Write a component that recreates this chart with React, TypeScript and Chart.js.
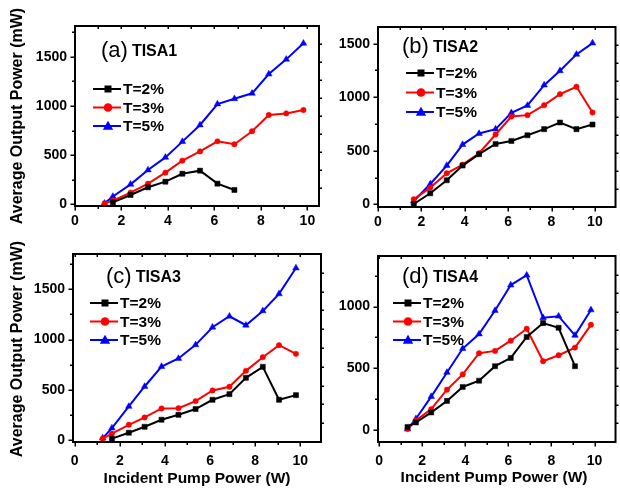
import React, { useEffect, useRef } from "react";
import { Chart, registerables } from "chart.js";

Chart.register(...registerables);

const FONT = "'Liberation Sans', Arial, Helvetica, sans-serif";

// ---------- data ----------
const seriesLabels = ["T=2%", "T=3%", "T=5%"];

// TISA1
const xTISA1_T2 = [1.63, 2.39, 3.14, 3.89, 4.62, 5.38, 6.13, 6.86];
const yTISA1_T2 = [20, 95, 173, 230, 311, 342, 210, 146];
const xTISA1_T3 = [1.27, 1.63, 2.39, 3.14, 3.89, 4.62, 5.38, 6.13, 6.86, 7.62, 8.34, 9.09, 9.83];
const yTISA1_T3 = [10, 37, 119, 210, 322, 444, 538, 640, 610, 742, 908, 924, 958];
const xTISA1_T5 = [1.27, 1.63, 2.39, 3.14, 3.89, 4.62, 5.38, 6.13, 6.86, 7.62, 8.34, 9.09, 9.83];
const yTISA1_T5 = [10, 80, 203, 349, 477, 637, 806, 1019, 1073, 1128, 1324, 1473, 1636];

// TISA2
const xTISA2 = [1.65, 2.41, 3.17, 3.9, 4.66, 5.42, 6.15, 6.89, 7.66, 8.39, 9.15, 9.89];
const yTISA2_T2 = [3, 103, 225, 362, 468, 564, 592, 645, 702, 764, 702, 745];
const yTISA2_T3 = [47, 156, 290, 371, 477, 652, 820, 833, 926, 1029, 1098, 858];
const yTISA2_T5 = [31, 190, 362, 558, 661, 702, 854, 923, 1113, 1247, 1400, 1506];

// TISA3
const xTISA3_T2 = [1.65, 2.4, 3.1, 3.85, 4.6, 5.36, 6.11, 6.86, 7.59, 8.34, 9.06, 9.81];
const yTISA3_T2 = [17, 76, 135, 205, 254, 311, 403, 459, 621, 730, 403, 449];
const xTISA3_T3 = [1.24, 1.65, 2.4, 3.1, 3.85, 4.6, 5.36, 6.11, 6.86, 7.59, 8.34, 9.06, 9.81];
const yTISA3_T3 = [17, 66, 155, 228, 317, 320, 390, 496, 532, 690, 826, 945, 859];
const xTISA3_T5 = [1.24, 1.65, 2.4, 3.1, 3.85, 4.6, 5.36, 6.11, 6.86, 7.59, 8.34, 9.06, 9.81];
const yTISA3_T5 = [23, 122, 337, 535, 733, 813, 948, 1123, 1232, 1143, 1285, 1454, 1711];

// TISA4
const xTISA4_T2 = [1.32, 1.71, 2.42, 3.15, 3.88, 4.64, 5.38, 6.11, 6.85, 7.61, 8.33, 9.09];
const yTISA4_T2 = [22, 59, 140, 234, 347, 398, 516, 583, 753, 866, 828, 516];
const xTISA4_T3 = [1.32, 1.71, 2.42, 3.15, 3.88, 4.64, 5.38, 6.11, 6.85, 7.61, 8.33, 9.09, 9.83];
const yTISA4_T3 = [5, 75, 167, 325, 449, 621, 640, 723, 820, 556, 605, 667, 852];
const xTISA4_T5 = [1.32, 1.71, 2.42, 3.15, 3.88, 4.64, 5.38, 6.11, 6.85, 7.61, 8.33, 9.09, 9.83];
const yTISA4_T5 = [5, 89, 269, 465, 659, 777, 968, 1175, 1255, 909, 922, 766, 973];

const xTicks = [0, 2, 4, 6, 8, 10];
const yTicksTall = [0, 500, 1000, 1500];
const yTicksShort = [0, 500, 1000];
const yAxisTitle = "Average Output Power (mW)";
const xAxisTitle = "Incident Pump Power (W)";

// ---------- styles / layout ----------
const colors = ["#000000", "#ff0000", "#0000ff"];
const markers = ["rect", "circle", "triangle"];
const markerRadius = [3.6, 2.7, 3.8];

type PanelCfg = {
  letter: string;
  name: string;
  xs: number[][];
  ys: number[][];
  yTicks: number[];
  area: { l: number; t: number; r: number; b: number };
  xRange: [number, number];
  yRange: [number, number];
  xPad: number;
  title: [number, number];
  legend: [number, number, number];
  yTitle?: [number, number];
  xTitle?: [number, number];
};

const panels: PanelCfg[] = [
  {
    letter: "(a)",
    name: "TISA1",
    xs: [xTISA1_T2, xTISA1_T3, xTISA1_T5],
    ys: [yTISA1_T2, yTISA1_T3, yTISA1_T5],
    yTicks: yTicksTall,
    area: { l: 75, t: 26, r: 319, b: 206 },
    xRange: [0, 10.5],
    yRange: [-17, 1812],
    xPad: 7,
    title: [26, 25],
    legend: [18, 63, 18.5],
    yTitle: [18, 116],
  },
  {
    letter: "(b)",
    name: "TISA2",
    xs: [xTISA2, xTISA2, xTISA2],
    ys: [yTISA2_T2, yTISA2_T3, yTISA2_T5],
    yTicks: yTicksTall,
    area: { l: 378, t: 27, r: 619, b: 207 },
    xRange: [0, 10.95],
    yRange: [-25, 1656],
    xPad: 7,
    title: [24, 20],
    legend: [28, 46, 19.5],
  },
  {
    letter: "(c)",
    name: "TISA3",
    xs: [xTISA3_T2, xTISA3_T3, xTISA3_T5],
    ys: [yTISA3_T2, yTISA3_T3, yTISA3_T5],
    yTicks: yTicksTall,
    area: { l: 73, t: 254, r: 321, b: 442 },
    xRange: [-0.075, 10.92],
    yRange: [-16, 1850],
    xPad: 11,
    title: [33, 23],
    legend: [17, 49, 18.5],
    yTitle: [18, 349],
    xTitle: [197, 479],
  },
  {
    letter: "(d)",
    name: "TISA4",
    xs: [xTISA4_T2, xTISA4_T3, xTISA4_T5],
    ys: [yTISA4_T2, yTISA4_T3, yTISA4_T5],
    yTicks: yTicksShort,
    area: { l: 378, t: 256, r: 619, b: 442 },
    xRange: [-0.05, 10.97],
    yRange: [-100, 1411],
    xPad: 11,
    title: [24, 21],
    legend: [15, 47, 18.5],
    xTitle: [494, 478],
  },
];

const W = 620;
const H = 492;
const Y_AXIS_W = 60;
const X_AXIS_H = 30;

function drawMarker(ctx: CanvasRenderingContext2D, kind: string, x: number, y: number, color: string) {
  ctx.fillStyle = color;
  ctx.beginPath();
  if (kind === "rect") {
    ctx.rect(x - 3.5, y - 3.5, 7, 7);
  } else if (kind === "circle") {
    ctx.arc(x, y, 4.3, 0, Math.PI * 2);
  } else {
    ctx.moveTo(x, y - 5.2);
    ctx.lineTo(x + 5.2, y + 3.8);
    ctx.lineTo(x - 5.2, y + 3.8);
    ctx.closePath();
  }
  ctx.fill();
}

const framePlugin = {
  id: "framePlugin",
  afterDraw(chart: any, _args: any, opts: any) {
    const cfg: PanelCfg = opts.cfg;
    const ctx: CanvasRenderingContext2D = chart.ctx;
    const { left, top, right, bottom } = chart.chartArea;
    const xs = chart.scales.x;
    const ys = chart.scales.y;
    ctx.save();
    ctx.strokeStyle = "#000";
    ctx.lineWidth = 2;
    ctx.strokeRect(left, top, right - left, bottom - top);

    ctx.lineWidth = 1.5;
    ctx.beginPath();
    // bottom (outward) and top (inward) ticks
    for (let v = Math.ceil(xs.min); v <= xs.max; v++) {
      const px = Math.round(xs.getPixelForValue(v)) + 0.25;
      const len = v % 2 === 0 ? 4.5 : 3;
      ctx.moveTo(px, bottom);
      ctx.lineTo(px, bottom + len);
      ctx.moveTo(px, top);
      ctx.lineTo(px, top + 3);
    }
    // left (outward)
    for (let v = Math.ceil(ys.min / 250) * 250; v <= ys.max; v += 250) {
      const py = Math.round(ys.getPixelForValue(v)) + 0.25;
      const len = v % 500 === 0 ? 4.5 : 3;
      ctx.moveTo(left, py);
      ctx.lineTo(left - len, py);
    }
    // right (outward), 10 divisions
    for (let k = 1; k < 10; k++) {
      const py = Math.round(top + ((bottom - top) * k) / 10) + 0.25;
      ctx.moveTo(right, py);
      ctx.lineTo(right + 3, py);
    }
    ctx.stroke();

    // title
    ctx.fillStyle = "#000";
    ctx.textBaseline = "middle";
    ctx.textAlign = "left";
    const tx = left + cfg.title[0];
    const ty = top + cfg.title[1];
    ctx.font = `22px ${FONT}`;
    ctx.fillText(cfg.letter, tx, ty);
    const lw = ctx.measureText(cfg.letter).width;
    ctx.font = `bold 16px ${FONT}`;
    ctx.fillText(cfg.name, tx + lw + 4, ty + 1);

    // legend
    const [lx0, ly0, gap] = cfg.legend;
    seriesLabels.forEach((lab, i) => {
      const lx = left + lx0;
      const ly = top + ly0 + i * gap;
      ctx.strokeStyle = colors[i];
      ctx.lineWidth = 2;
      ctx.beginPath();
      ctx.moveTo(lx, ly);
      ctx.lineTo(lx + 28, ly);
      ctx.stroke();
      drawMarker(ctx, markers[i], lx + 15, ly, colors[i]);
      ctx.fillStyle = "#000";
      ctx.font = `bold 15.5px ${FONT}`;
      ctx.fillText(lab, lx + 30, ly + 1);
    });

    // axis titles
    ctx.fillStyle = "#000";
    ctx.textAlign = "center";
    if (cfg.yTitle) {
      ctx.save();
      ctx.translate(cfg.yTitle[0], cfg.yTitle[1]);
      ctx.rotate(-Math.PI / 2);
      ctx.font = `bold 16px ${FONT}`;
      ctx.fillText(yAxisTitle, 0, 0);
      ctx.restore();
    }
    if (cfg.xTitle) {
      ctx.font = `bold 15.5px ${FONT}`;
      ctx.fillText(xAxisTitle, cfg.xTitle[0], cfg.xTitle[1]);
    }
    ctx.restore();
  },
};

const plainLabel = (v: any) => String(v);

function Panel({ cfg }: { cfg: PanelCfg }) {
  const ref = useRef<HTMLCanvasElement | null>(null);
  useEffect(() => {
    if (!ref.current) return;
    const tickFont = { family: FONT, size: 14, weight: "bold" as const };
    const chart = new Chart(ref.current, {
      type: "line",
      data: {
        datasets: seriesLabels.map((lab, i) => ({
          label: lab,
          data: cfg.xs[i].map((x, j) => ({ x, y: cfg.ys[i][j] })),
          borderColor: colors[i],
          backgroundColor: colors[i],
          pointBackgroundColor: colors[i],
          pointBorderColor: colors[i],
          borderWidth: 2,
          pointStyle: markers[i] as any,
          pointRadius: markerRadius[i],
          pointBorderWidth: 0.5,
          tension: 0,
          fill: false,
        })),
      },
      options: {
        responsive: false,
        animation: false,
        devicePixelRatio: 1,
        events: [],
        layout: {
          padding: {
            left: cfg.area.l - Y_AXIS_W,
            top: cfg.area.t,
            right: W - cfg.area.r,
            bottom: H - cfg.area.b - X_AXIS_H,
          },
        },
        plugins: {
          legend: { display: false },
          tooltip: { enabled: false },
          framePlugin: { cfg },
        } as any,
        scales: {
          x: {
            type: "linear",
            min: cfg.xRange[0],
            max: cfg.xRange[1],
            afterFit: (s: any) => {
              s.height = X_AXIS_H;
            },
            afterBuildTicks: (s: any) => {
              s.ticks = xTicks.map((v) => ({ value: v }));
            },
            grid: { display: false, drawTicks: false },
            border: { display: false },
            ticks: {
              autoSkip: false,
              maxRotation: 0,
              font: tickFont,
              color: "#000",
              padding: cfg.xPad,
              callback: plainLabel,
            },
          },
          y: {
            type: "linear",
            min: cfg.yRange[0],
            max: cfg.yRange[1],
            afterFit: (s: any) => {
              s.width = Y_AXIS_W;
            },
            afterBuildTicks: (s: any) => {
              s.ticks = cfg.yTicks.map((v) => ({ value: v }));
            },
            grid: { display: false, drawTicks: false },
            border: { display: false },
            ticks: {
              autoSkip: false,
              font: tickFont,
              color: "#000",
              padding: 8,
              callback: plainLabel,
            },
          },
        },
      },
      plugins: [framePlugin],
    });
    return () => chart.destroy();
  }, [cfg]);
  return (
    <canvas
      ref={ref}
      width={W}
      height={H}
      style={{ position: "absolute", left: 0, top: 0, width: W, height: H }}
    />
  );
}

export default function App() {
  return (
    <div style={{ position: "absolute", left: 0, top: 0, width: W, height: H, background: "#fff" }}>
      {panels.map((p) => (
        <Panel key={p.name} cfg={p} />
      ))}
    </div>
  );
}
